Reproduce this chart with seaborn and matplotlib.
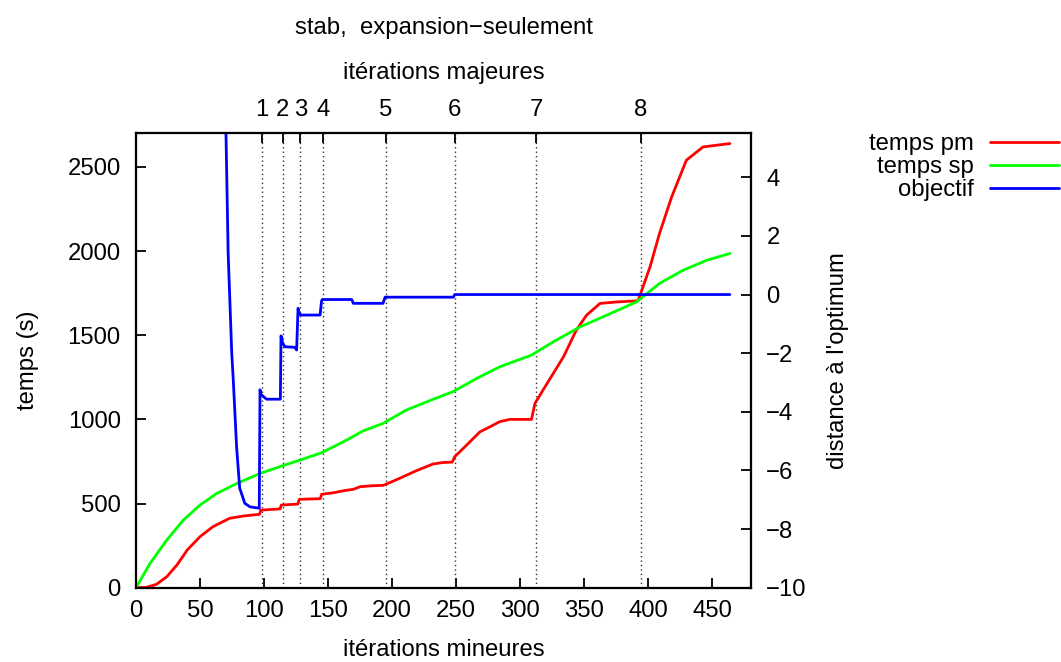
import matplotlib
matplotlib.use("Agg")
import matplotlib.pyplot as plt
import numpy as np
import pandas as pd
import seaborn as sns

# itérations mineures / temps (s)
pm_x = [0, 8, 16, 24, 32, 40, 50, 60, 73, 84, 96.5, 97.5, 112.5, 113.5, 126.5, 127.5,
        144, 145, 155, 162, 170, 175, 185, 193, 200, 206, 219, 232, 240, 247, 249,
        258, 268.7, 276.6, 284, 292, 309, 311.7, 318, 326, 334, 344, 352, 362.5,
        375.5, 391, 392.4, 401.6, 409, 418.5, 430, 443, 464]
pm_y = [0, 2, 20, 65, 135, 224, 303, 362, 412, 426, 436, 461, 468, 491, 497, 525,
        529, 555, 565, 576, 585, 600, 606, 608, 630, 650, 695, 735, 744, 746, 778,
        845, 926, 956, 986, 1000, 1000, 1095, 1174, 1273, 1372, 1530, 1619, 1689,
        1698, 1704, 1708, 1906, 2104, 2322, 2540, 2619, 2639]

sp_x = [0, 11, 24, 37, 50, 63, 79, 97, 113.8, 128, 145, 162, 177.6, 193, 211, 232,
        248, 266, 284, 309, 326, 347, 367.7, 391, 409, 427.6, 446, 464]
sp_y = [0, 145, 283, 402, 491, 560, 620, 679, 723, 758, 802, 867, 932, 976, 1055,
        1119, 1166, 1243, 1312, 1382, 1461, 1550, 1619, 1698, 1808, 1887, 1946, 1986]

# distance à l'optimum (axe de droite)
obj_x = [68, 70.3, 72, 74.8, 76, 78.6, 81, 85, 89, 96.3, 96.9, 97.5, 99.5, 102,
         112.8, 113.3, 114.5, 116.4, 124, 125.5, 126.6, 127.2, 128.7, 143.8, 145,
         145.6, 168.5, 169.8, 193, 194.6, 248, 249, 464]
obj_y = [9.0, 5.5, 1.41, -2.0, -2.91, -5.2, -6.6, -7.12, -7.24, -7.29, -3.25, -3.4,
         -3.48, -3.57, -3.57, -1.41, -1.65, -1.78, -1.80, -1.89, -0.47, -0.6, -0.70,
         -0.70, -0.21, -0.17, -0.17, -0.30, -0.30, -0.09, -0.09, 0.0, 0.0]

major_pos = [98.5, 114.5, 128.5, 146, 195, 249, 312.5, 394.5]
major_labels = ["1", "2", "3", "4", "5", "6", "7", "8"]

series_names = ["temps pm", "temps sp", "objectif"]
series_colors = ["#ff0000", "#00ff00", "#0000ff"]

sns.set_theme(context="notebook", style="white")
plt.rcParams["font.family"] = ["Liberation Sans", "DejaVu Sans"]
plt.rcParams["axes.linewidth"] = 1.5
plt.rcParams["text.color"] = "black"
fs = 17.2
lw = 2.0

W, H = 1061, 662
fig = plt.figure(figsize=(W / 100, H / 100), dpi=100)
ax = fig.add_axes([136 / W, 1 - 587.7 / H, 615 / W, 454.4 / H])
ax_r = ax.twinx()
ax_t = ax.twiny()

# dotted lines at the major iterations
ax.vlines(major_pos, 0, 2700, colors="#333333", linestyles=(0, (1, 2.2)),
          linewidth=1.0, zorder=1)

df_pm = pd.DataFrame({"x": pm_x, "y": pm_y})
df_sp = pd.DataFrame({"x": sp_x, "y": sp_y})
df_obj = pd.DataFrame({"x": obj_x, "y": obj_y})

sns.lineplot(data=df_pm, x="x", y="y", ax=ax, color=series_colors[0],
             linewidth=lw, estimator=None, sort=False, zorder=3)
sns.lineplot(data=df_sp, x="x", y="y", ax=ax, color=series_colors[1],
             linewidth=lw, estimator=None, sort=False, zorder=3)
sns.lineplot(data=df_obj, x="x", y="y", ax=ax_r, color=series_colors[2],
             linewidth=lw, estimator=None, sort=False, zorder=3)

ax.set_xlim(0, 480.5)
ax.set_ylim(0, 2700)
ax_r.set_ylim(-10, 5.5)
ax_t.set_xlim(ax.get_xlim())

ax.set_xticks(np.arange(0, 451, 50))
ax.set_yticks(np.arange(0, 2501, 500))
ax_r.set_yticks(np.arange(-10, 5, 2))
ax_t.set_xticks(major_pos)
ax_t.set_xticklabels(major_labels)

for a in (ax, ax_r, ax_t):
    a.set_xlabel("")
    a.set_ylabel("")
    for s in a.spines.values():
        s.set_linewidth(1.5)
        s.set_color("black")

ax.tick_params(axis="both", direction="in", length=7, width=1.3, colors="black",
               labelsize=fs, top=False, right=False)
ax.tick_params(axis="x", pad=9)
ax.tick_params(axis="y", pad=11)
ax_r.tick_params(axis="y", direction="in", length=7, width=1.3, colors="black",
                 labelsize=fs, left=False, right=True, pad=11)
ax_t.tick_params(axis="x", direction="in", length=7, width=1.3, colors="black",
                 labelsize=fs, bottom=False, top=True, pad=9)

# texts
cx = (136 + 751) / 2 / W
cy = 1 - 360.5 / H
fig.text(cx, 1 - 28 / H, "stab,  expansion\u2212seulement", ha="center", va="center", fontsize=fs)
fig.text(cx, 1 - 73 / H, "itérations majeures", ha="center", va="center", fontsize=fs)
fig.text(cx, 1 - 650 / H, "itérations mineures", ha="center", va="center", fontsize=fs)
fig.text(28 / W, cy, "temps (s)", rotation=90, ha="center", va="center", fontsize=fs)
fig.text(838 / W, cy, "distance à l'optimum", rotation=90, ha="center", va="center", fontsize=fs)

# legend
handles = ax.get_lines()[-2:] + ax_r.get_lines()[-1:]
for a in (ax, ax_r):
    if a.get_legend() is not None:
        a.get_legend().remove()
fig.legend(handles, series_names, loc="upper right",
           bbox_to_anchor=(1059 / W, 1 - 133 / H), frameon=False, markerfirst=False,
           handlelength=2.9, handletextpad=0.65, labelspacing=0.05, borderpad=0,
           borderaxespad=0, fontsize=fs)

fig.savefig("out.png", dpi=100)
